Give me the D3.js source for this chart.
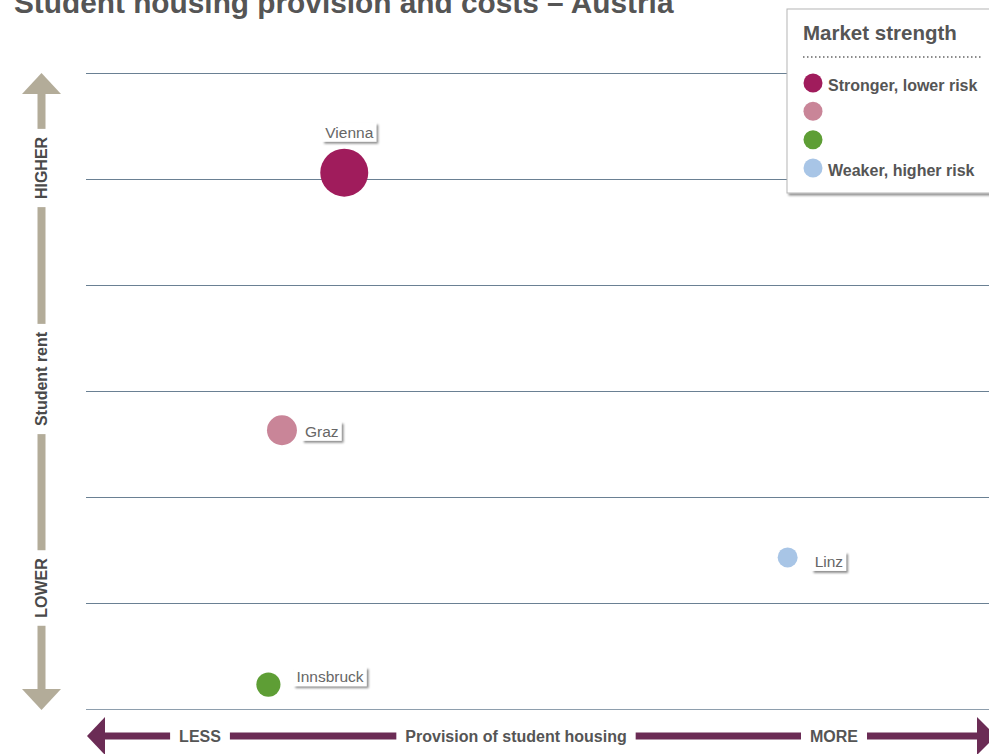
<!DOCTYPE html>
<html>
<head>
<meta charset="utf-8">
<script src="https://cdn.jsdelivr.net/npm/d3@7"></script>
<style>
  body { margin: 0; background: #fff; }
  svg { display: block; font-family: "Liberation Sans", Arial, Helvetica, sans-serif; }
</style>
</head>
<body>
<svg id="chart" width="989" height="754"></svg>
<script>
// data
const cities = ["Vienna", "Graz", "Innsbruck", "Linz"];
const provision = [2.86, 2.17, 2.02, 7.77];   // x: provision of student housing
const rent = [5.06, 2.63, 0.23, 1.43];        // y: student rent
const students = [190, 74, 48, 33];           // bubble size (thousand students)
const strength = ["s1", "s2", "s3", "s4"];    // market strength class

const legendKeys = ["s1", "s2", "s3", "s4"];
const legendLabels = ["Stronger, lower risk", "", "", "Weaker, higher risk"];
const legendColors = ["#a01c5c", "#c98598", "#5e9e35", "#a8c5e6"];

const gridTicks = [0, 1, 2, 3, 4, 5, 6];

// label placement (style only)
const labelPos = {
  Vienna: { anchor: "top", dx: 5, dy: -31 },
  Graz: { anchor: "right", dx: 20, dy: 1 },
  Innsbruck: { anchor: "right", dx: 25, dy: -8 },
  Linz: { anchor: "right", dx: 24, dy: 4 }
};

const svg = d3.select("#chart");

const x = d3.scaleLinear().domain([0, 10]).range([86, 989]);
const y = d3.scaleLinear().domain([0, 6]).range([709, 73]);
const r = d3.scaleSqrt().domain([0, 190]).range([0, 24]);
const color = d3.scaleOrdinal().domain(legendKeys).range(legendColors);

const defs = svg.append("defs");
const f = defs.append("filter").attr("id", "shadow")
  .attr("x", "-20%").attr("y", "-30%").attr("width", "150%").attr("height", "180%");
f.append("feDropShadow").attr("dx", 2).attr("dy", 2).attr("stdDeviation", 1.2)
  .attr("flood-color", "#000").attr("flood-opacity", 0.45);

// title (cropped at top, as in the source)
svg.append("text")
  .attr("x", 14).attr("y", 13)
  .attr("font-size", 29.8).attr("font-weight", "bold")
  .attr("fill", "#555")
  .text("Student housing provision and costs – Austria");

// gridlines
svg.append("g")
  .selectAll("line")
  .data(gridTicks)
  .join("line")
  .attr("x1", x.range()[0]).attr("x2", x.range()[1])
  .attr("y1", d => y(d) + 0.5).attr("y2", d => y(d) + 0.5)
  .attr("stroke", d => d === 0 ? "#8e9ead" : "#6a8093")
  .attr("stroke-width", 1);

// vertical arrow (student rent)
const tan = "#b3ac99";
const ax = 41.5;
const vArrow = svg.append("g");
vArrow.append("rect").attr("x", ax - 4).attr("y", 90).attr("width", 8).attr("height", 605).attr("fill", tan);
vArrow.append("path").attr("d", `M${ax},73 L${ax + 19.5},94 L${ax - 19.5},94 Z`).attr("fill", tan);
vArrow.append("path").attr("d", `M${ax},710 L${ax + 19.5},689 L${ax - 19.5},689 Z`).attr("fill", tan);

const vLabels = [
  { t: "HIGHER", c: 168 },
  { t: "Student rent", c: 379 },
  { t: "LOWER", c: 588 }
];
vLabels.forEach(l => {
  const g = vArrow.append("g").attr("transform", `translate(${ax},${l.c}) rotate(-90)`);
  const bg = g.append("rect").attr("fill", "#fff");
  const t = g.append("text")
    .attr("text-anchor", "middle").attr("dy", "0.36em")
    .attr("font-size", 16).attr("font-weight", "bold").attr("fill", "#4a4a4a")
    .text(l.t);
  const w = t.node().getComputedTextLength();
  bg.attr("x", -w / 2 - 8).attr("y", -8).attr("width", w + 16).attr("height", 16);
});

// horizontal arrow (provision)
const purple = "#6b2c55";
const ay = 736;
const hArrow = svg.append("g");
hArrow.append("rect").attr("x", 100).attr("y", ay - 3.5).attr("width", 880).attr("height", 7).attr("fill", purple);
hArrow.append("path").attr("d", `M87,${ay} L105,${ay - 19} L105,${ay + 19} Z`).attr("fill", purple);
hArrow.append("path").attr("d", `M996,${ay} L977,${ay - 19} L977,${ay + 19} Z`).attr("fill", purple);

const hLabels = [
  { t: "LESS", c: 200 },
  { t: "Provision of student housing", c: 516 },
  { t: "MORE", c: 834 }
];
hLabels.forEach(l => {
  const g = hArrow.append("g").attr("transform", `translate(${l.c},${ay})`);
  const bg = g.append("rect").attr("fill", "#fff");
  const t = g.append("text")
    .attr("text-anchor", "middle").attr("dy", "0.36em")
    .attr("font-size", 16).attr("font-weight", "bold").attr("fill", "#555")
    .text(l.t);
  const w = t.node().getComputedTextLength();
  bg.attr("x", -w / 2 - 9).attr("y", -8).attr("width", w + 18).attr("height", 16);
});

// bubbles
const pts = cities.map((c, i) => ({
  city: c, px: provision[i], ry: rent[i], size: students[i], cls: strength[i]
}));

svg.append("g")
  .selectAll("circle")
  .data(pts)
  .join("circle")
  .attr("cx", d => x(d.px))
  .attr("cy", d => y(d.ry))
  .attr("r", d => r(d.size))
  .attr("fill", d => color(d.cls));

// labels with shadowed boxes
const lab = svg.append("g")
  .selectAll("g")
  .data(pts)
  .join("g");

lab.each(function (d) {
  const g = d3.select(this);
  const p = labelPos[d.city];
  const cx = x(d.px), cy = y(d.ry);
  const bg = g.append("rect").attr("fill", "#fff").attr("filter", "url(#shadow)");
  const t = g.append("text")
    .attr("font-size", 15.5).attr("fill", "#666")
    .text(d.city);
  const w = t.node().getComputedTextLength();
  const bw = w + 6, bh = 19;
  let bx, by;
  if (p.anchor === "top") {
    bx = cx + p.dx - bw / 2;
    by = cy + p.dy - bh;
  } else {
    bx = cx + p.dx;
    by = cy + p.dy - bh / 2;
  }
  bg.attr("x", bx).attr("y", by).attr("width", bw).attr("height", bh);
  t.attr("x", bx + 3).attr("y", by + bh / 2).attr("dy", "0.36em");
});

// legend
const lg = svg.append("g").attr("transform", "translate(787,9)");
lg.append("rect")
  .attr("width", 215).attr("height", 184)
  .attr("fill", "#fff").attr("stroke", "#b5b5b5").attr("stroke-width", 1)
  .attr("filter", "url(#shadow)");
lg.append("text")
  .attr("x", 16).attr("y", 31)
  .attr("font-size", 20.5).attr("font-weight", "bold").attr("fill", "#555")
  .text("Market strength");
lg.append("line")
  .attr("x1", 16).attr("x2", 196).attr("y1", 48).attr("y2", 48)
  .attr("stroke", "#666").attr("stroke-width", 1.5).attr("stroke-dasharray", "1.5,2.5");

const rowY = d3.scalePoint().domain(legendKeys).range([74, 159]);
const rows = lg.selectAll("g.row")
  .data(legendKeys.map((k, i) => ({ k, label: legendLabels[i] })))
  .join("g").attr("class", "row")
  .attr("transform", d => `translate(26,${rowY(d.k)})`);
rows.append("circle").attr("r", 9.5).attr("fill", d => color(d.k));
rows.append("text")
  .attr("x", 15).attr("dy", "0.36em").attr("y", 2)
  .attr("font-size", 16).attr("font-weight", "bold").attr("fill", "#555")
  .text(d => d.label);
</script>
</body>
</html>
